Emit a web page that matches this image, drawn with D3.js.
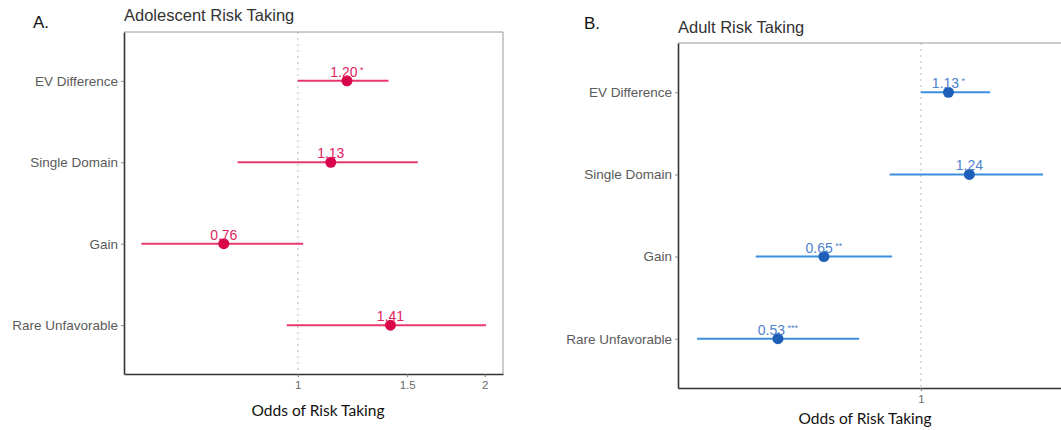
<!DOCTYPE html>
<html><head><meta charset="utf-8">
<script src="https://cdn.jsdelivr.net/npm/d3@7"></script>
<style>
html,body{margin:0;padding:0;background:#fff;}
svg{display:block;}
</style></head>
<body>
<svg id="chart" width="1061" height="430"></svg>
<script>
const terms = ["EV Difference", "Single Domain", "Gain", "Rare Unfavorable"];

const adolEstimate = [1.20, 1.13, 0.76, 1.41];
const adolLow      = [1.00, 0.80, 0.56, 0.96];
const adolHigh     = [1.40, 1.56, 1.02, 2.01];
const adolLabels   = ["1.20", "1.13", "0.76", "1.41"];
const adolStars    = ["*", "", "", ""];
const adolTicks    = [1, 1.5, 2];

const adultEstimate = [1.13, 1.24, 0.65, 0.53];
const adultLow      = [1.00, 0.87, 0.48, 0.37];
const adultHigh     = [1.36, 1.72, 0.88, 0.76];
const adultLabels   = ["1.13", "1.24", "0.65", "0.53"];
const adultStars    = ["*", "", "**", "***"];
const adultTicks    = [1];

const svg = d3.select("#chart");

function panel(cfg) {
  const g = svg.append("g");
  const x = d3.scaleLog().domain(cfg.domain).range([cfg.left, cfg.right]);
  const y = d3.scalePoint().domain(terms).range([cfg.top, cfg.bottom]).padding(0.6);

  // letter + title
  g.append("text").attr("x", cfg.letterX).attr("y", cfg.letterY)
    .attr("font-family", "Liberation Sans, Arial, sans-serif").attr("font-size", 17)
    .attr("fill", "#111").text(cfg.letter);
  g.append("text").attr("x", cfg.left).attr("y", cfg.titleY)
    .attr("font-family", "Liberation Sans, Arial, sans-serif").attr("font-size", 16.5)
    .attr("fill", "#333").text(cfg.title);

  // dotted reference line at 1
  g.append("line").attr("x1", x(1)).attr("x2", x(1))
    .attr("y1", cfg.top).attr("y2", cfg.bottom)
    .attr("stroke", "#c8c8c8").attr("stroke-width", 1.2).attr("stroke-dasharray", "2,4");

  // border (top/right light)
  g.append("line").attr("x1", cfg.left).attr("x2", cfg.right).attr("y1", cfg.top).attr("y2", cfg.top)
    .attr("stroke", "#9a9a9a").attr("stroke-width", 1);
  g.append("line").attr("x1", cfg.right).attr("x2", cfg.right).attr("y1", cfg.top).attr("y2", cfg.bottom)
    .attr("stroke", "#9a9a9a").attr("stroke-width", 1);

  // axes
  const xAxis = d3.axisBottom(x).tickValues(cfg.ticks).tickFormat(d3.format("~g"))
    .tickSize(3).tickSizeOuter(0).tickPadding(4);
  const gx = g.append("g").attr("transform", `translate(0,${cfg.bottom})`).call(xAxis);
  gx.select(".domain").attr("stroke", "#333").attr("stroke-width", 1.6);
  gx.selectAll(".tick line").attr("stroke", "#777");
  gx.selectAll(".tick text").attr("fill", "#6a6a6a").attr("font-size", 11.5)
    .attr("font-family", "Liberation Sans, Arial, sans-serif");

  const yAxis = d3.axisLeft(y).tickSize(3).tickSizeOuter(0).tickPadding(3);
  const gy = g.append("g").attr("transform", `translate(${cfg.left},0)`).call(yAxis);
  gy.select(".domain").attr("stroke", "#333").attr("stroke-width", 1.6);
  gy.selectAll(".tick line").attr("stroke", "#888");
  gy.selectAll(".tick text").attr("fill", "#5a5a5a").attr("font-size", 13.5)
    .attr("font-family", "Liberation Sans, Arial, sans-serif");

  // x title
  g.append("text").attr("x", cfg.xTitleX).attr("y", cfg.xTitleY).attr("text-anchor", "middle")
    .attr("font-family", "Lato, Open Sans, sans-serif").attr("font-size", 15.5)
    .attr("fill", "#111").text("Odds of Risk Taking");

  // CI lines
  g.selectAll(".ci").data(terms).enter().append("line")
    .attr("x1", (d, i) => x(cfg.low[i])).attr("x2", (d, i) => x(cfg.high[i]))
    .attr("y1", d => y(d)).attr("y2", d => y(d))
    .attr("stroke", cfg.lineColor).attr("stroke-width", 2);

  // points
  g.selectAll(".pt").data(terms).enter().append("circle")
    .attr("cx", (d, i) => x(cfg.est[i])).attr("cy", d => y(d)).attr("r", 5.5)
    .attr("fill", cfg.pointColor);

  // labels
  const lab = g.selectAll(".lab").data(terms).enter().append("text")
    .attr("x", (d, i) => x(cfg.est[i])).attr("y", d => y(d) - 4)
    .attr("text-anchor", "middle")
    .attr("font-family", "Liberation Sans, Arial, sans-serif").attr("font-size", 14)
    .attr("fill", cfg.labelColor);
  lab.append("tspan").text((d, i) => cfg.labels[i]);
  lab.append("tspan").attr("font-size", 9).attr("dy", -4)
    .text((d, i) => cfg.stars[i] ? "\u00a0" + cfg.stars[i] : "");
}

panel({
  letter: "A.", letterX: 33, letterY: 28, title: "Adolescent Risk Taking", titleY: 21,
  left: 124, right: 503, top: 32, bottom: 374,
  domain: [0.525, 2.14], ticks: adolTicks,
  est: adolEstimate, low: adolLow, high: adolHigh, labels: adolLabels, stars: adolStars,
  lineColor: "#e8386b", pointColor: "#d9064b", labelColor: "#e0245e",
  xTitleX: 318, xTitleY: 416
});

panel({
  letter: "B.", letterX: 584, letterY: 29, title: "Adult Risk Taking", titleY: 33,
  left: 678, right: 1077, top: 43, bottom: 388,
  domain: [0.34, 2.0], ticks: adultTicks,
  est: adultEstimate, low: adultLow, high: adultHigh, labels: adultLabels, stars: adultStars,
  lineColor: "#3c8ede", pointColor: "#1e5fba", labelColor: "#4f82cf",
  xTitleX: 865, xTitleY: 424
});
</script>
</body></html>
